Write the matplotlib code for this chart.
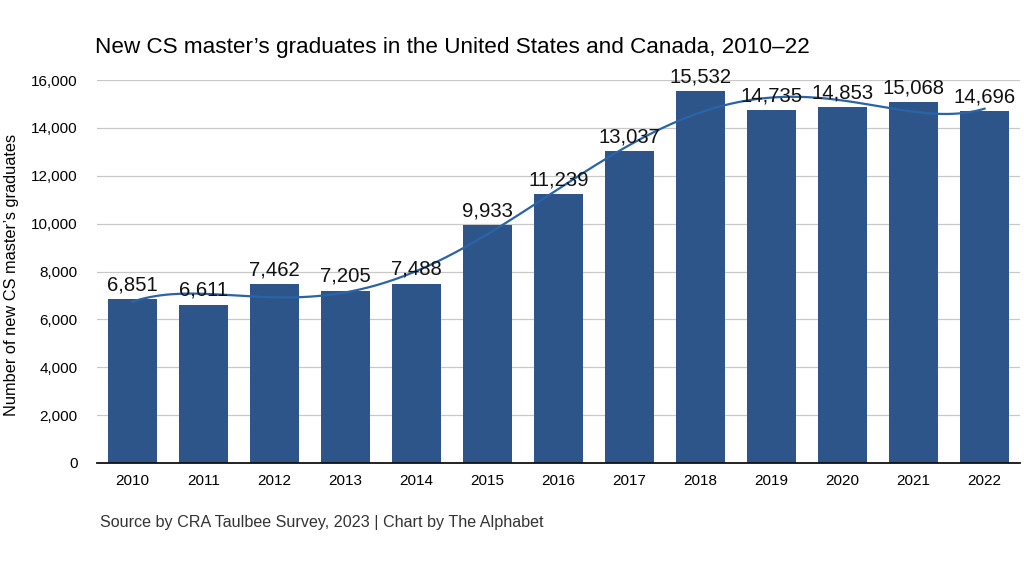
import numpy as np
import matplotlib.pyplot as plt

years = ['2010', '2011', '2012', '2013', '2014', '2015', '2016',
         '2017', '2018', '2019', '2020', '2021', '2022']
graduates = [6851, 6611, 7462, 7205, 7488, 9933, 11239,
             13037, 15532, 14735, 14853, 15068, 14696]
yticks = [0, 2000, 4000, 6000, 8000, 10000, 12000, 14000, 16000]

plt.rcParams['font.family'] = ['Liberation Sans', 'DejaVu Sans']

fig = plt.figure(figsize=(10.24, 5.76), dpi=100)
ax = fig.add_axes([97/1024, 1 - 463/576, (1020-97)/1024, (463-80)/576])

x = np.arange(len(years))
bar_color = '#2e5589'
ax.bar(x, graduates, width=0.7, color=bar_color, zorder=2)

# smooth trend line (polynomial fit of the data)
coef = np.polyfit(x, graduates, 6)
xs = np.linspace(x[0], x[-1], 300)
ax.plot(xs, np.polyval(coef, xs), color='#2a64a8', lw=1.6, zorder=3)

for xi, v in zip(x, graduates):
    ax.text(xi, v + 200, f'{v:,}', ha='center', va='bottom', fontsize=14.6, color='#111111', zorder=4)

ax.set_xlim(-0.5, len(years) - 0.5)
ax.set_ylim(0, 16000)
ax.set_yticks(yticks)
ax.set_yticklabels([f'{t:,}' for t in yticks], fontsize=11)
ax.set_xticks(x)
ax.set_xticklabels(years, fontsize=11)
ax.tick_params(length=0, pad=8)
ax.tick_params(axis='y', pad=14)
ax.grid(axis='y', color='#c8c8c8', lw=0.9, zorder=0)
for s in ['top', 'right', 'left']:
    ax.spines[s].set_visible(False)
ax.spines['bottom'].set_color('#111111')
ax.spines['bottom'].set_linewidth(1.3)
ax.spines['bottom'].set_zorder(5)

ax.set_ylabel('Number of new CS master\u2019s graduates', fontsize=11.8)
ax.yaxis.set_label_coords(-78/923, 0.49)

fig.text(95/1024, 1 - 47/576, 'New CS master\u2019s graduates in the United States and Canada, 2010\u201322',
         fontsize=16.2, va='center', ha='left')
fig.text(100/1024, 1 - 522/576, 'Source by CRA Taulbee Survey, 2023 | Chart by The Alphabet',
         fontsize=11.6, va='center', ha='left', color='#333333')

fig.savefig('out.png', dpi=100)
